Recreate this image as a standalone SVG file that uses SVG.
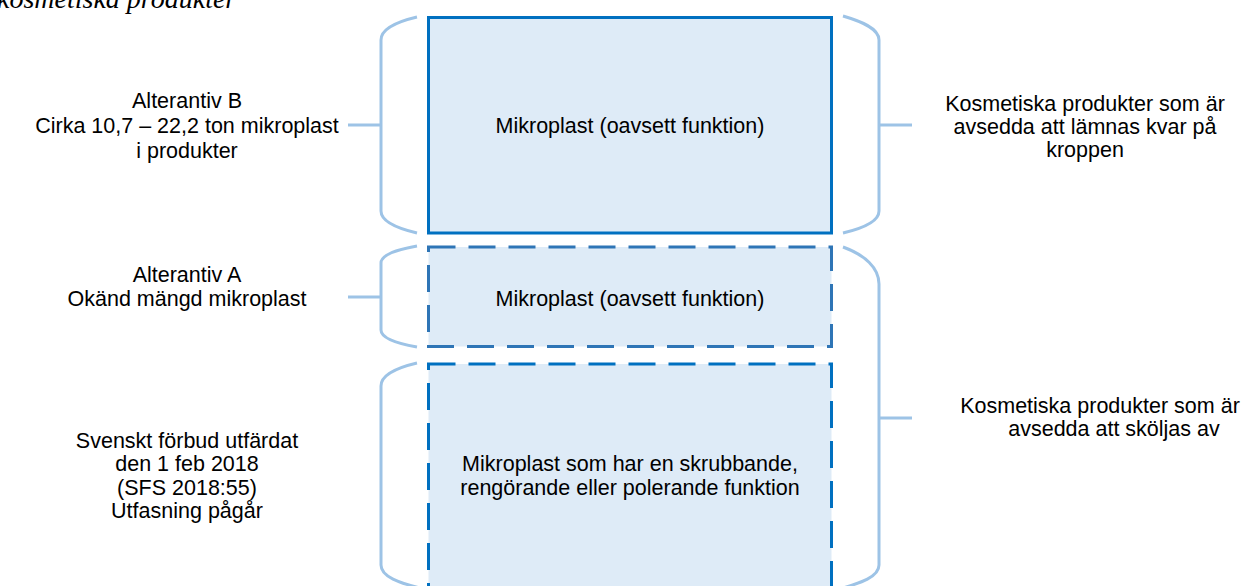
<svg xmlns="http://www.w3.org/2000/svg" width="1254" height="586" viewBox="0 0 1254 586">
<style>
.t{font-family:"Liberation Sans",Arial,sans-serif;font-size:21.5px;fill:#000;text-anchor:middle}
.cap{font-family:"Liberation Serif","Times New Roman",serif;font-style:italic;font-size:28px;fill:#000}
.br{fill:none;stroke:#9DC3E6;stroke-width:3}
.box{fill:#DEEBF7;stroke-width:3}
</style>
<rect width="1254" height="586" fill="#fff"/>
<text class="cap" x="-3" y="8">kosmetiska produkter</text>
<g id="connectors">
<path class="br" d="M417,17 C400,21 381,28 381,40 V211 C381,222 400,229 417,233"/>
<path class="br" d="M417,246 C400,249 381,254 381,263 V330 C381,339 400,344 417,347"/>
<path class="br" d="M417,363 C400,367 381,374 381,386 V565 C381,577 400,583 420,588"/>
<path class="br" d="M348,125 H381 M348,297 H381"/>
<path class="br" d="M843,16 C860,21 879,28 879,40 V211 C879,222 860,229 843,233"/>
<path class="br" d="M843,247 C865,255 879,268 879,284 V565 C879,577 860,583 843,588"/>
<path class="br" d="M879,125 H912 M879,418 H912"/>
</g>
<g id="box-top">
<rect class="box" x="428.5" y="17.5" width="403" height="215.5" stroke="#0070C0"/>
<text class="t" x="630" y="133">Mikroplast (oavsett funktion)</text>
</g>
<g id="box-middle">
<rect class="box" x="428.5" y="247" width="403" height="99.5" stroke="#2E75B6" stroke-dasharray="27 13"/>
<text class="t" x="630" y="306">Mikroplast (oavsett funktion)</text>
</g>
<g id="box-bottom">
<rect class="box" x="428.5" y="364" width="403" height="240" stroke="#0070C0" stroke-dasharray="27 13"/>
<text class="t" x="630" y="471">Mikroplast som har en skrubbande,</text>
<text class="t" x="630" y="495">rengörande eller polerande funktion</text>
</g>
<g id="label-b">
<text class="t" x="187" y="108">Alterantiv B</text>
<text class="t" x="187" y="133">Cirka 10,7 – 22,2 ton mikroplast</text>
<text class="t" x="187" y="158">i produkter</text>
</g>
<g id="label-a">
<text class="t" x="187" y="282">Alterantiv A</text>
<text class="t" x="187" y="306">Okänd mängd mikroplast</text>
</g>
<g id="label-ban">
<text class="t" x="187" y="448">Svenskt förbud utfärdat</text>
<text class="t" x="187" y="471">den 1 feb 2018</text>
<text class="t" x="187" y="495">(SFS 2018:55)</text>
<text class="t" x="187" y="518">Utfasning pågår</text>
</g>
<g id="label-leave-on">
<text class="t" x="1085" y="111">Kosmetiska produkter som är</text>
<text class="t" x="1085" y="134">avsedda att lämnas kvar på</text>
<text class="t" x="1085" y="157">kroppen</text>
</g>
<g id="label-rinse-off">
<text class="t" x="1100" y="413">Kosmetiska produkter som är</text>
<text class="t" x="1114" y="436">avsedda att sköljas av</text>
</g>
</svg>
